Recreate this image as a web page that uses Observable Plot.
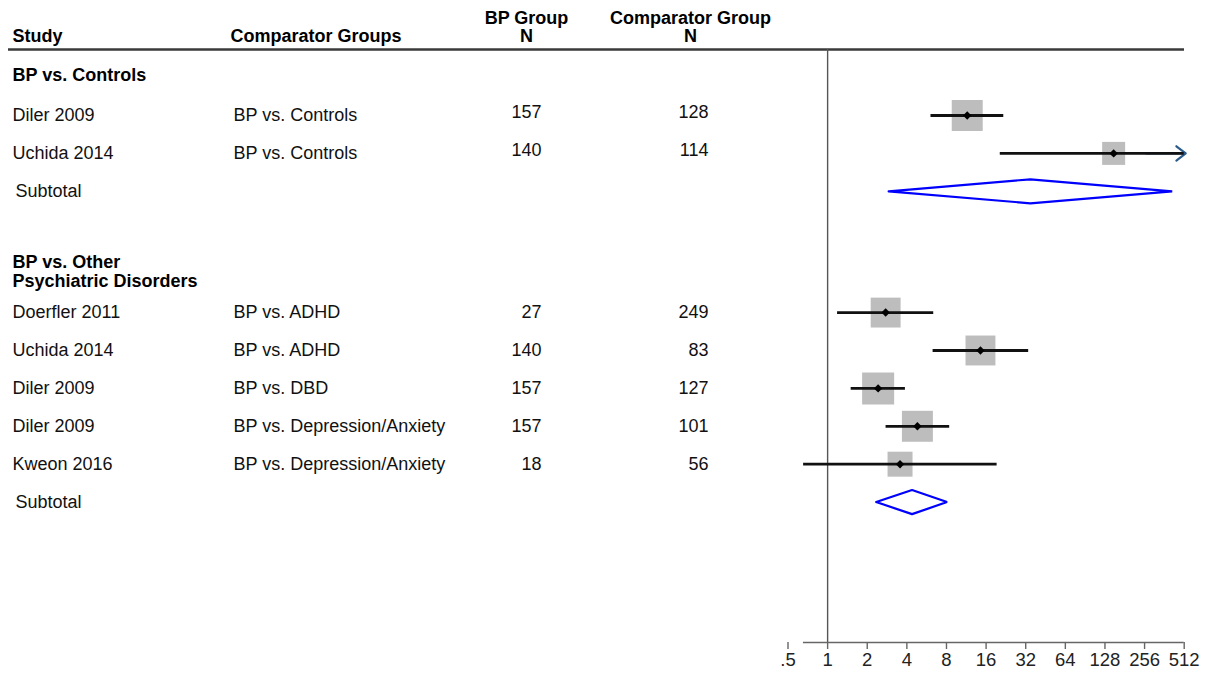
<!DOCTYPE html>
<html>
<head>
<meta charset="utf-8">
<script src="https://cdn.jsdelivr.net/npm/d3@7"></script>
<script src="https://cdn.jsdelivr.net/npm/@observablehq/plot@0.6"></script>
<style>
  html, body { margin: 0; padding: 0; background: #fff; }
  #chart { width: 1205px; height: 675px; }
</style>
</head>
<body>
<div id="chart"></div>
<script>
// ---- Data ----
const groupNames = ["BP vs. Controls", "BP vs. Other\nPsychiatric Disorders"];
const studyGroup = [0, 0, 1, 1, 1, 1, 1];
const studies = ["Diler 2009", "Uchida 2014", "Doerfler 2011", "Uchida 2014", "Diler 2009", "Diler 2009", "Kweon 2016"];
const comparators = ["BP vs. Controls", "BP vs. Controls", "BP vs. ADHD", "BP vs. ADHD", "BP vs. DBD", "BP vs. Depression/Anxiety", "BP vs. Depression/Anxiety"];
const bpN = [157, 140, 27, 140, 157, 157, 18];
const compN = [128, 114, 249, 83, 127, 101, 56];
const estimate = [11.5, 149, 2.76, 14.5, 2.42, 4.81, 3.55];
const lower = [6.1, 20.5, 1.19, 6.33, 1.51, 2.78, 0.657];
const upper = [21.8, 1085, 6.4, 33.7, 3.9, 8.46, 19.4];
const weight = [16.3, 9.0, 15.2, 15.2, 17.4, 16.3, 10.6];
const subtotalEst = [34.7, 4.38];
const subtotalLower = [2.91, 2.34];
const subtotalUpper = [415, 8.08];
const columnHeaders = ["Study", "Comparator Groups", "BP Group\nN", "Comparator Group\nN"];
const xTicks = [0.5, 1, 2, 4, 8, 16, 32, 64, 128, 256, 512];
const xTickLabels = [".5", "1", "2", "4", "8", "16", "32", "64", "128", "256", "512"];

// ---- Layout (row units) ----
const X_MAX = 512;
const rows = [], groupHeaders = [], subtotals = [];
let cursor = 0;
groupNames.forEach((g, gi) => {
  groupHeaders.push({label: g, y: cursor - 1.08});
  const idx = studies.map((_, i) => i).filter(i => studyGroup[i] === gi);
  idx.forEach((i, k) => rows.push({
    g: gi, y: cursor + k, study: studies[i], comp: comparators[i],
    bp: bpN[i], cn: compN[i], est: estimate[i], lo: lower[i], hi: upper[i], w: weight[i]
  }));
  subtotals.push({g: gi, y: cursor + idx.length, est: subtotalEst[gi], lo: subtotalLower[gi], hi: subtotalUpper[gi]});
  cursor += idx.length + 3.2;
});
const H = 0.317; // diamond half-height in row units
const diamondPts = subtotals.flatMap(s => [
  {g: s.g, x: s.lo, y: s.y}, {g: s.g, x: s.est, y: s.y - H},
  {g: s.g, x: s.hi, y: s.y}, {g: s.g, x: s.est, y: s.y + H}, {g: s.g, x: s.lo, y: s.y}
]);
const headerRows = [
  {t: columnHeaders[0], y: -2.085, dx: 12, anchor: "start"},
  {t: columnHeaders[1], y: -2.085, dx: 230, anchor: "start"},
  {t: columnHeaders[2], y: -2.32, dx: 526, anchor: "middle"},
  {t: columnHeaders[3], y: -2.32, dx: 690, anchor: "middle"}
];
const LINE_Y = -1.74, AXIS_Y = 13.905;
const truncated = rows.filter(d => d.hi > X_MAX);

const chart = Plot.plot({
  width: 1205,
  height: 675,
  marginTop: 0, marginBottom: 33, marginLeft: 0, marginRight: 0,
  style: {fontFamily: "'Liberation Sans', Arial, sans-serif", fontSize: "18px", background: "#fff", color: "#000"},
  x: {type: "log", base: 2, domain: [0.5, 512], range: [787.5, 1183.7]},
  y: {domain: [-3.0343, AXIS_Y], range: [0, 642], axis: null},
  r: {type: "sqrt", domain: [0, 17.4], range: [0, 32 / Math.sqrt(Math.PI)]},
  marks: [
    // header rule
    Plot.ruleY([LINE_Y], {stroke: "#3a3a3a", strokeWidth: 2.6, insetLeft: 8, insetRight: 21}),
    // null line
    Plot.ruleX([1], {y1: LINE_Y, y2: AXIS_Y, stroke: "#555", strokeWidth: 1.4}),
    // axis line
    Plot.ruleY([AXIS_Y], {x1: 0.655, x2: 512, stroke: "#666", strokeWidth: 1.4}),
    Plot.axisX({ticks: xTicks, tickFormat: (d) => xTickLabels[xTicks.indexOf(d)], tickSize: 7, tickPadding: 3, stroke: "#666", strokeWidth: 1.4, fill: "#222", fontSize: 18.5}),
    // column headers
    ...headerRows.map(h => Plot.text([h], {y: "y", text: "t", frameAnchor: "left", dx: h.dx, textAnchor: h.anchor, fontWeight: "bold", lineHeight: 1.0, fill: "#000"})),
    // group headers
    Plot.text(groupHeaders, {y: "y", text: "label", frameAnchor: "left", dx: 12, textAnchor: "start", fontWeight: "bold", lineHeight: 1.06, fill: "#000"}),
    // study rows
    Plot.text(rows, {y: "y", text: "study", frameAnchor: "left", dx: 12, textAnchor: "start", fill: "#111"}),
    Plot.text(rows, {y: "y", text: "comp", frameAnchor: "left", dx: 233, textAnchor: "start", fill: "#111"}),
    Plot.text(rows, {filter: d => d.g === 0, y: "y", text: "bp", frameAnchor: "left", dx: 541, dy: -3, textAnchor: "end", fill: "#111"}),
    Plot.text(rows, {filter: d => d.g === 0, y: "y", text: "cn", frameAnchor: "left", dx: 708, dy: -3, textAnchor: "end", fill: "#111"}),
    Plot.text(rows, {filter: d => d.g !== 0, y: "y", text: "bp", frameAnchor: "left", dx: 541, textAnchor: "end", fill: "#111"}),
    Plot.text(rows, {filter: d => d.g !== 0, y: "y", text: "cn", frameAnchor: "left", dx: 708, textAnchor: "end", fill: "#111"}),
    Plot.text(subtotals, {y: "y", text: () => "Subtotal", frameAnchor: "left", dx: 15, textAnchor: "start", fill: "#111"}),
    // weight squares
    Plot.dot(rows, {x: "est", y: "y", r: "w", symbol: "square", fill: "#bdbdbd", stroke: "none"}),
    // arrowhead for CI beyond the axis
    Plot.arrow(truncated, {y1: "y", y2: "y", x1: () => 256, x2: () => X_MAX, stroke: "#2b5c8c", strokeWidth: 2.2, headLength: 8, headAngle: 75, dx: 1.5}),
    // CI lines
    Plot.ruleY(rows, {y: "y", x1: "lo", x2: d => Math.min(d.hi, X_MAX), stroke: "#111", strokeWidth: 2.8}),
    // point estimates
    Plot.dot(rows, {x: "est", y: "y", r: 3.8, symbol: "diamond2", fill: "#000"}),
    // subtotal diamonds
    Plot.line(diamondPts, {x: "x", y: "y", z: "g", stroke: "#0000ff", strokeWidth: 2.2, fill: "#fff", strokeLinejoin: "miter", curve: "linear"})
  ]
});
document.getElementById("chart").appendChild(chart);
</script>
</body>
</html>
